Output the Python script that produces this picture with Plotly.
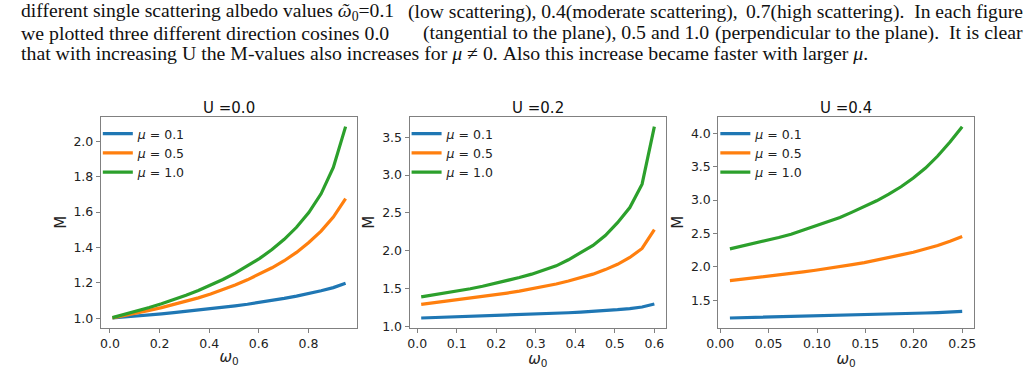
import plotly.graph_objects as go

W, H = 1034, 369

# ---------------- data ----------------
mu_labels = ["0.1", "0.5", "1.0"]
panel_titles = ["U =0.0", "U =0.2", "U =0.4"]

omega_u00 = [0.01, 0.0595, 0.1089, 0.1584, 0.2079, 0.2574, 0.3068, 0.3563, 0.4058, 0.4553,
             0.5047, 0.5542, 0.6037, 0.6532, 0.7026, 0.7521, 0.8016, 0.8511, 0.9005, 0.95]
M_u00_mu01 = [1.001, 1.006, 1.012, 1.018, 1.024, 1.031, 1.038, 1.045, 1.053, 1.061,
              1.070, 1.079, 1.089, 1.100, 1.112, 1.125, 1.139, 1.155, 1.173, 1.197]
M_u00_mu05 = [1.002, 1.015, 1.029, 1.044, 1.060, 1.077, 1.095, 1.115, 1.137, 1.161,
              1.188, 1.217, 1.249, 1.285, 1.325, 1.372, 1.428, 1.492, 1.572, 1.676]
M_u00_mu10 = [1.003, 1.021, 1.040, 1.060, 1.082, 1.105, 1.130, 1.157, 1.187, 1.219,
              1.255, 1.294, 1.338, 1.388, 1.446, 1.514, 1.597, 1.703, 1.852, 2.083]

omega_u02 = [0.01, 0.0411, 0.0721, 0.1032, 0.1342, 0.1653, 0.1963, 0.2274, 0.2584, 0.2895,
             0.3205, 0.3516, 0.3826, 0.4137, 0.4447, 0.4758, 0.5068, 0.5379, 0.5689, 0.6]
M_u02_mu01 = [1.110, 1.115, 1.120, 1.125, 1.130, 1.135, 1.140, 1.145, 1.150, 1.158,
              1.165, 1.172, 1.180, 1.188, 1.197, 1.207, 1.220, 1.235, 1.255, 1.295]
M_u02_mu05 = [1.290, 1.310, 1.330, 1.350, 1.370, 1.390, 1.415, 1.440, 1.465, 1.495,
              1.525, 1.560, 1.600, 1.640, 1.690, 1.750, 1.820, 1.910, 2.030, 2.280]
M_u02_mu10 = [1.390, 1.415, 1.440, 1.468, 1.497, 1.530, 1.565, 1.603, 1.645, 1.690,
              1.740, 1.800, 1.880, 1.970, 2.070, 2.200, 2.370, 2.570, 2.880, 3.640]

omega_u04 = [0.01, 0.0226, 0.0353, 0.0479, 0.0605, 0.0732, 0.0858, 0.0984, 0.1111, 0.1237,
             0.1363, 0.1489, 0.1616, 0.1742, 0.1868, 0.1995, 0.2121, 0.2247, 0.2374, 0.25]
M_u04_mu01 = [1.235, 1.239, 1.243, 1.247, 1.251, 1.255, 1.259, 1.263, 1.268, 1.272,
              1.277, 1.282, 1.287, 1.292, 1.298, 1.304, 1.310, 1.316, 1.324, 1.333]
M_u04_mu05 = [1.795, 1.815, 1.835, 1.855, 1.880, 1.900, 1.925, 1.950, 1.975, 2.005,
              2.035, 2.065, 2.100, 2.140, 2.180, 2.220, 2.270, 2.320, 2.385, 2.455]
M_u04_mu10 = [2.270, 2.310, 2.350, 2.400, 2.440, 2.490, 2.550, 2.610, 2.670, 2.740,
              2.820, 2.900, 2.990, 3.090, 3.200, 3.330, 3.480, 3.660, 3.870, 4.100]

panels = [
    (omega_u00, [M_u00_mu01, M_u00_mu05, M_u00_mu10]),
    (omega_u02, [M_u02_mu01, M_u02_mu05, M_u02_mu10]),
    (omega_u04, [M_u04_mu01, M_u04_mu05, M_u04_mu10]),
]
y_dticks = [0.2, 0.5, 0.5]
x_dticks = [0.2, 0.1, 0.05]
x_formats = [".1f", ".1f", ".2f"]

# paragraph lines, each split into (left, middle, right) pieces for justification
paragraph = [
    ("different single scattering albedo values <i>ῶ</i><sub>0</sub>=0.1",
     "(low scattering), 0.4(moderate scattering),",
     "0.7(high scattering).  In each figure"),
    ("we plotted three different direction cosines 0.0",
     "(tangential to the plane), 0.5 and 1.0",
     "(perpendicular to the plane).  It is clear"),
    ("that with increasing U the M-values also increases for <i>μ</i> ≠ 0. Also this increase became faster with larger <i>μ</i>.",
     None, None),
]
middle_centers = [569, 562, None]
line_sizes = [19.6, 19.8, 19.8]

# ---------------- style ----------------
colors = ["#1f77b4", "#ff7f0e", "#2ca02c"]
px_x = [(90, 350), (403, 663), (716, 975)]
px_y = (119, 333)
SANS = "DejaVu Sans"
SERIF = "Liberation Serif"

fig = go.Figure()
legend_names = ["legend", "legend2", "legend3"]

for p, (xs, ys_list) in enumerate(panels):
    sfx = "" if p == 0 else str(p + 1)
    for k, ys in enumerate(ys_list):
        fig.add_trace(go.Scatter(
            x=xs, y=ys, mode="lines",
            line=dict(color=colors[k], width=3.2),
            name=f"<i>μ</i> = {mu_labels[k]}",
            xaxis="x" + sfx, yaxis="y" + sfx,
            legend=legend_names[p],
        ))

layout = dict(
    width=W, height=H,
    margin=dict(l=0, r=0, t=0, b=0),
    paper_bgcolor="white", plot_bgcolor="white",
    font=dict(family=SANS, size=12, color="#222"),
    showlegend=True,
)

annotations = []
for p, (xs, ys_list) in enumerate(panels):
    sfx = "" if p == 0 else str(p + 1)
    allys = [v for ys in ys_list for v in ys]
    xmin, xmax = min(xs), max(xs)
    ymin, ymax = min(allys), max(allys)
    xpad = 0.05 * (xmax - xmin)
    ypad = 0.05 * (ymax - ymin)
    x0, x1 = px_x[p]
    dom_x = [x0 / W, x1 / W]
    dom_y = [1 - px_y[1] / H, 1 - px_y[0] / H]
    axcommon = dict(showline=True, mirror=True, linecolor="#808080", linewidth=1,
                    ticks="outside", ticklen=4, tickcolor="#808080", showgrid=False,
                    zeroline=False, tickfont=dict(family=SANS, size=12.5, color="#222"))
    layout["xaxis" + sfx] = dict(
        domain=dom_x, anchor="y" + sfx, range=[xmin - xpad, xmax + xpad],
        dtick=x_dticks[p], tick0=0, tickformat=x_formats[p],
        title=dict(text="<i>ω</i><sub>0</sub>", font=dict(family=SANS, size=15, color="#222"), standoff=1),
        **axcommon)
    layout["yaxis" + sfx] = dict(
        domain=dom_y, anchor="x" + sfx, range=[ymin - ypad, ymax + ypad],
        dtick=y_dticks[p], tick0=0, tickformat=".1f",
        title=dict(text="M", font=dict(family=SANS, size=15, color="#222"), standoff=3),
        **axcommon)
    layout[legend_names[p]] = dict(
        x=(x0 - 3) / W, y=1 - (px_y[0] + 2) / H, xanchor="left", yanchor="top",
        bgcolor="rgba(0,0,0,0)", borderwidth=0,
        font=dict(family=SANS, size=12.5, color="#222"), tracegroupgap=0,
    )
    annotations.append(dict(
        text=panel_titles[p], x=(x0 + x1) / 2 / W, y=1 - 110 / H,
        xref="paper", yref="paper", xanchor="center", yanchor="middle",
        showarrow=False, font=dict(family=SANS, size=15, color="#111")))

line_y = [12, 33.5, 54]
for i, (left, mid, right) in enumerate(paragraph):
    yy = 1 - line_y[i] / H
    common = dict(y=yy, xref="paper", yref="paper", yanchor="middle", showarrow=False,
                  font=dict(family=SERIF, size=line_sizes[i], color="#111"))
    annotations.append(dict(text=left, x=7 / W, xanchor="left", **common))
    if mid:
        annotations.append(dict(text=mid, x=middle_centers[i] / W, xanchor="center", **common))
    if right:
        annotations.append(dict(text=right, x=1027 / W, xanchor="right", **common))

layout["annotations"] = annotations
fig.update_layout(**layout)
fig.write_html("out.html")
